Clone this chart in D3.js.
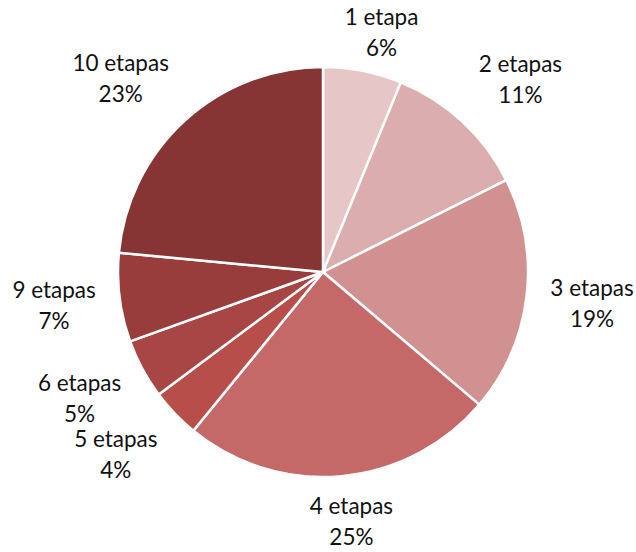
<!DOCTYPE html>
<html>
<head>
<meta charset="utf-8">
<script src="https://cdn.jsdelivr.net/npm/d3@7"></script>
<style>
  body { margin: 0; background: #fff; }
  svg text { font-family: Lato, "Open Sans", sans-serif; font-size: 22.5px; fill: #111; }
</style>
</head>
<body>
<svg id="pie" width="636" height="552"></svg>
<script>
// slice data, clockwise from 12 o'clock
var categories = ["1 etapa", "2 etapas", "3 etapas", "4 etapas", "5 etapas", "6 etapas", "9 etapas", "10 etapas"];
var values = [6.2, 11.4, 18.6, 24.7, 3.9, 4.7, 7.0, 23.5];
var colors = ["#e6c6c6", "#dbadae", "#d29191", "#c46868", "#b84e4a", "#a84545", "#983d3c", "#863534"];

var svg = d3.select("svg#pie"),
	cx = 323,
	cy = 272,
	radius = 205;

var total = d3.sum(values);
var fmt = d3.format(".0%");

var data = categories.map(function (c, i) {
	return { name: c, value: values[i], color: colors[i] };
});

var pie = d3.pie().sort(null).value(function (d) { return d.value; });
var arc = d3.arc().innerRadius(0).outerRadius(radius);

var g = svg.append("g").attr("transform", "translate(" + cx + "," + cy + ")");
var arcs = pie(data);

g.selectAll("path.slice")
	.data(arcs)
	.enter().append("path")
	.attr("class", "slice")
	.attr("d", arc)
	.attr("fill", function (d) { return d.data.color; })
	.attr("stroke", "#fff")
	.attr("stroke-width", 2.5)
	.attr("stroke-linejoin", "round");

// labels outside end: corner of label box sits just off the arc
var labelRx = 229, labelRy = 220, lineH = 31, halfH = 31;
var clamp = function (v) { return Math.max(-1, Math.min(1, v)); };

var labels = g.selectAll("g.lbl")
	.data(arcs)
	.enter().append("g")
	.attr("class", "lbl");

labels.append("text")
	.attr("text-anchor", "middle")
	.attr("y", -lineH / 2)
	.attr("dy", "0.35em")
	.text(function (d) { return d.data.name; });
labels.append("text")
	.attr("text-anchor", "middle")
	.attr("y", lineH / 2)
	.attr("dy", "0.35em")
	.text(function (d) { return fmt(d.data.value / total); });

labels.attr("transform", function (d) {
	var a = (d.startAngle + d.endAngle) / 2;
	var w = this.getBBox().width;
	var s = Math.sin(a), c = -Math.cos(a);
	var x = s * labelRx + clamp(s * 2) * w / 2;
	var y = c * labelRy + clamp(c * 1.5) * halfH;
	// keep inside the top edge
	if (cy + y - halfH < 2) y = 2 + halfH - cy;
	return "translate(" + x + "," + y + ")";
});
</script>
</body>
</html>
